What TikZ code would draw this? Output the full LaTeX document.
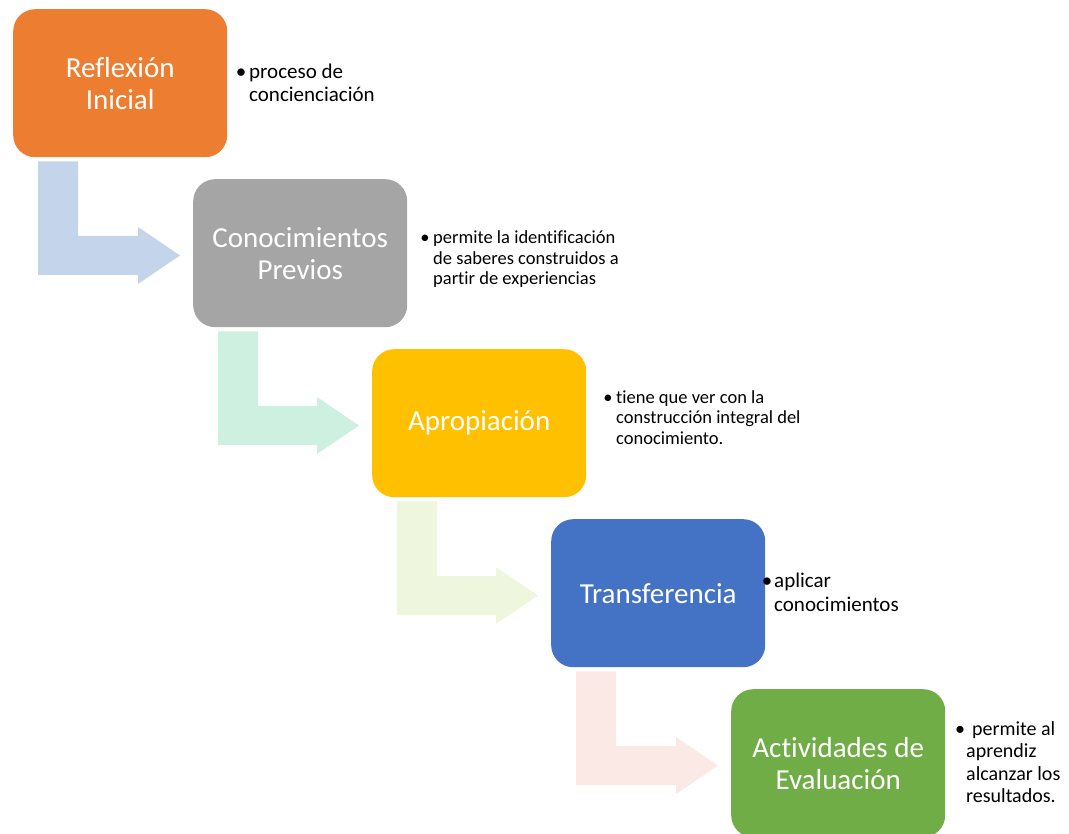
\documentclass[tikz,border=0pt]{standalone}
\usepackage{fontspec}
\setmainfont{Carlito}[Ligatures=NoCommon]
\usetikzlibrary{calc}
\definecolor{cOrange}{HTML}{ED7D31}
\definecolor{cGrey}{HTML}{A5A5A5}
\definecolor{cGold}{HTML}{FFC000}
\definecolor{cBlue}{HTML}{4472C4}
\definecolor{cGreen}{HTML}{70AD47}
\definecolor{aBlue}{RGB}{196,213,235}
\definecolor{aMint}{RGB}{206,240,224}
\definecolor{aLime}{RGB}{238,247,221}
\definecolor{aPink}{RGB}{250,233,228}
\tikzset{
  x=1pt,y=-1pt,
  stepbox/.style={rectangle,rounded corners=22pt,minimum width=214pt,minimum height=148pt,
    inner sep=0pt,text=white,align=center,font=\fontsize{29}{32}\selectfont},
  note/.style={anchor=base west,inner sep=0pt,text=black},
  bul/.style={anchor=base,inner sep=0pt,text=black},
}
\newcommand{\toplines}[1]{\begin{tabular}[t]{@{}l@{}}#1\end{tabular}}
\newcommand{\bentarrow}[3]{%
  \fill[#3] let \p1=(#1.south west), \p2=(#2.north west) in
    (\x1+25,\y1-4) -- (\x1+65,\y1-4) -- (\x1+65,\y2-57) -- (\x2-55,\y2-57)
    -- (\x2-55,\y2-48) -- (\x2-13,\y2-76.5) -- (\x2-55,\y2-105) -- (\x2-55,\y2-96)
    -- (\x1+25,\y2-96) -- cycle;}
\begin{document}
\begin{tikzpicture}
\useasboundingbox (0,0) rectangle (1069,834);
\begin{scope}
\clip (0,0) rectangle (1069,834);
\node[stepbox,fill=cOrange,anchor=north west] (b1) at (13,9) {Reflexión\\Inicial};
\node[stepbox,fill=cGrey,anchor=north west] (b2) at (193,179) {Conocimientos\\Previos};
\node[stepbox,fill=cGold,anchor=north west] (b3) at (372,349) {Apropiación};
\node[stepbox,fill=cBlue,anchor=north west] (b4) at (551,519) {Transferencia};
\node[stepbox,fill=cGreen,anchor=north west] (b5) at (731,689) {Actividades de\\Evaluación};
\end{scope}
\bentarrow{b1}{b2}{aBlue}
\bentarrow{b2}{b3}{aMint}
\bentarrow{b3}{b4}{aLime}
\bentarrow{b4}{b5}{aPink}
% notes
\node[bul,font=\fontsize{21}{22.5}\selectfont] (d1) at (241,79) {•};
\node[note,font=\fontsize{21}{22.5}\selectfont] (t1) at (249,79) {\renewcommand{\arraystretch}{1}\toplines{proceso de\\concienciación}};
\node[bul,font=\fontsize{18.5}{20.5}\selectfont] (d2) at (425,244) {•};
\node[note,font=\fontsize{18.5}{20.5}\selectfont] (t2) at (433,244) {\toplines{permite la identificación\\de saberes construidos a\\partir de experiencias}};
\node[bul,font=\fontsize{18.5}{20.5}\selectfont] (d3) at (608,403) {•};
\node[note,font=\fontsize{18.5}{20.5}\selectfont] (t3) at (616,403) {\toplines{tiene que ver con la\\construcción integral del\\conocimiento.}};
\node[bul,font=\fontsize{21}{24}\selectfont] (d4) at (767,587) {•};
\node[note,font=\fontsize{21}{24}\selectfont] (t4) at (774,587) {\toplines{aplicar\\conocimientos}};
\node[bul,font=\fontsize{20}{22.5}\selectfont] (d5) at (960,735) {•};
\node[note,font=\fontsize{20}{22.5}\selectfont] (t5) at (966,735) {\toplines{\hspace{0.3em}permite al\\aprendiz\\alcanzar los\\resultados.}};
\end{tikzpicture}
\end{document}
